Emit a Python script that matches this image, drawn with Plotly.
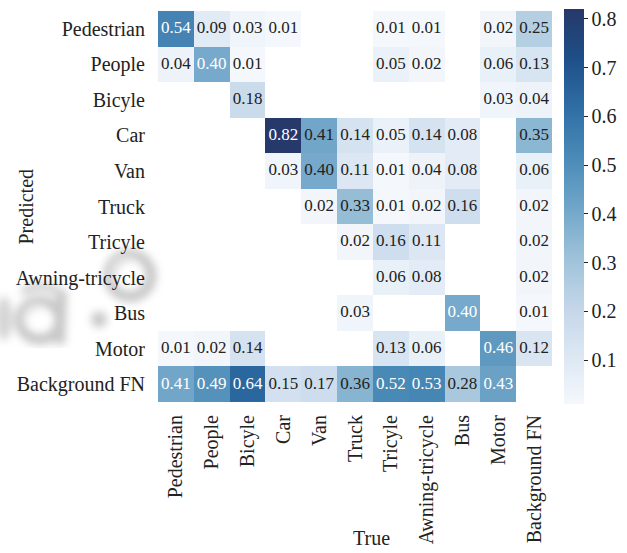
import base64
import plotly.graph_objects as go

# Class names (columns = ground truth, rows = prediction)
true_labels = ["Pedestrian", "People", "Bicyle", "Car", "Van", "Truck", "Tricyle",
               "Awning-tricycle", "Bus", "Motor", "Background FN"]
pred_labels = ["Pedestrian", "People", "Bicyle", "Car", "Van", "Truck", "Tricyle",
               "Awning-tricycle", "Bus", "Motor", "Background FN"]

N = None
row_pedestrian = [0.54, 0.09, 0.03, 0.01, N, N, 0.01, 0.01, N, 0.02, 0.25]
row_people = [0.04, 0.40, 0.01, N, N, N, 0.05, 0.02, N, 0.06, 0.13]
row_bicyle = [N, N, 0.18, N, N, N, N, N, N, 0.03, 0.04]
row_car = [N, N, N, 0.82, 0.41, 0.14, 0.05, 0.14, 0.08, N, 0.35]
row_van = [N, N, N, 0.03, 0.40, 0.11, 0.01, 0.04, 0.08, N, 0.06]
row_truck = [N, N, N, N, 0.02, 0.33, 0.01, 0.02, 0.16, N, 0.02]
row_tricyle = [N, N, N, N, N, 0.02, 0.16, 0.11, N, N, 0.02]
row_awning = [N, N, N, N, N, N, 0.06, 0.08, N, N, 0.02]
row_bus = [N, N, N, N, N, 0.03, N, N, 0.40, N, 0.01]
row_motor = [0.01, 0.02, 0.14, N, N, N, 0.13, 0.06, N, 0.46, 0.12]
row_background = [0.41, 0.49, 0.64, 0.15, 0.17, 0.36, 0.52, 0.53, 0.28, 0.43, N]

matrix = [row_pedestrian, row_people, row_bicyle, row_car, row_van, row_truck,
          row_tricyle, row_awning, row_bus, row_motor, row_background]

# Cells whose value label is printed in white (row, column)
light_label_cells = [(0, 0), (1, 1), (3, 3), (8, 8), (9, 9),
                     (10, 0), (10, 1), (10, 2), (10, 6), (10, 7), (10, 9)]

colorbar_ticks = [0.1, 0.2, 0.3, 0.4, 0.5, 0.6, 0.7, 0.8]

blues = [
    [0.000, "#f4f8fc"],
    [0.125, "#dce7f3"],
    [0.250, "#c2d5e8"],
    [0.375, "#9cc1d9"],
    [0.500, "#6fa5c8"],
    [0.625, "#4a8ab7"],
    [0.750, "#2f6ea5"],
    [0.875, "#1e4f88"],
    [1.000, "#27386a"],
]

FONT = "Liberation Serif, Times New Roman, serif"
INK = "#222222"

# Soft grey embossed stamp behind the lower-left row labels
stamp_svg = """<svg xmlns='http://www.w3.org/2000/svg' width='170' height='130' viewBox='0 0 170 130'>
<defs><filter id='soft' x='-30%' y='-30%' width='160%' height='160%'>
<feGaussianBlur stdDeviation='4.2'/></filter></defs>
<g filter='url(#soft)' opacity='0.5'>
<circle cx='130' cy='57' r='21' fill='none' stroke='#8f8f8f' stroke-width='11'/>
<circle cx='99' cy='101' r='8' fill='#8f8f8f'/>
<ellipse cx='40' cy='102' rx='20' ry='19' fill='none' stroke='#8f8f8f' stroke-width='11'/>
<path d='M62 72 L60 126' stroke='#8f8f8f' stroke-width='10' fill='none'/>
<path d='M22 74 Q40 62 60 74' stroke='#9c9c9c' stroke-width='8' fill='none'/>
<ellipse cx='4' cy='100' rx='8' ry='22' fill='#a8a8a8'/>
</g>
<g filter='url(#soft)' opacity='0.7'>
<circle cx='125' cy='52' r='12' fill='none' stroke='#ffffff' stroke-width='4'/>
<ellipse cx='36' cy='98' rx='10' ry='10' fill='none' stroke='#ffffff' stroke-width='4'/>
</g>
</svg>"""
stamp_uri = "data:image/svg+xml;base64," + base64.b64encode(stamp_svg.encode()).decode()

fig = go.Figure()
fig.add_trace(go.Heatmap(
    z=matrix,
    x=true_labels,
    y=pred_labels,
    colorscale=blues,
    zmin=0.01,
    zmax=0.82,
    hoverongaps=False,
    xgap=0, ygap=0,
    colorbar=dict(
        thickness=20,
        len=1.0,
        lenmode="fraction",
        x=1.0 + 10 / 398,
        xanchor="left",
        xpad=0,
        y=0.5,
        yanchor="middle",
        ypad=0,
        outlinewidth=0,
        tickvals=colorbar_ticks,
        ticktext=[f"{v:.1f}" for v in colorbar_ticks],
        ticks="outside",
        ticklen=4,
        tickwidth=1,
        tickcolor=INK,
        tickfont=dict(family=FONT, size=20, color=INK),
    ),
))

# Value labels
tx, ty, tt, tc = [], [], [], []
for i, row in enumerate(matrix):
    for j, v in enumerate(row):
        if v is None:
            continue
        tx.append(true_labels[j])
        ty.append(pred_labels[i])
        tt.append(f"{v:.2f}")
        tc.append("#ffffff" if (i, j) in light_label_cells else INK)

fig.add_trace(go.Scatter(
    x=tx, y=ty, text=tt, mode="text",
    textfont=dict(family=FONT, size=17, color=tc),
    hoverinfo="skip", showlegend=False,
))

fig.update_layout(
    width=627,
    height=553,
    margin=dict(l=156, r=73, t=9, b=147),
    paper_bgcolor="white",
    plot_bgcolor="white",
    font=dict(family=FONT, size=20, color=INK),
    xaxis=dict(
        type="category",
        tickangle=-90,
        showgrid=False,
        zeroline=False,
        showline=False,
        ticks="",
        ticklabelstandoff=6,
        tickfont=dict(family=FONT, size=20, color=INK),
    ),
    yaxis=dict(
        type="category",
        autorange="reversed",
        showgrid=False,
        zeroline=False,
        showline=False,
        ticks="",
        ticklabelstandoff=10,
        tickfont=dict(family=FONT, size=20, color=INK),
    ),
    images=[dict(
        source=stamp_uri,
        xref="paper", yref="paper",
        x=(0 - 156) / 398, y=(406 - 220) / 397,
        sizex=170 / 398, sizey=130 / 397,
        xanchor="left", yanchor="top",
        sizing="stretch", layer="below",
    )],
    annotations=[
        dict(text="True", xref="paper", yref="paper", x=(371 - 156) / 398, y=-(541 - 406) / 397,
             xanchor="center", yanchor="middle", showarrow=False,
             font=dict(family=FONT, size=20, color=INK)),
        dict(text="Predicted", xref="paper", yref="paper", x=-(156 - 25) / 398, y=0.5,
             xanchor="center", yanchor="middle", textangle=-90, showarrow=False,
             font=dict(family=FONT, size=20, color=INK)),
    ],
)

fig.write_html("out.html")
